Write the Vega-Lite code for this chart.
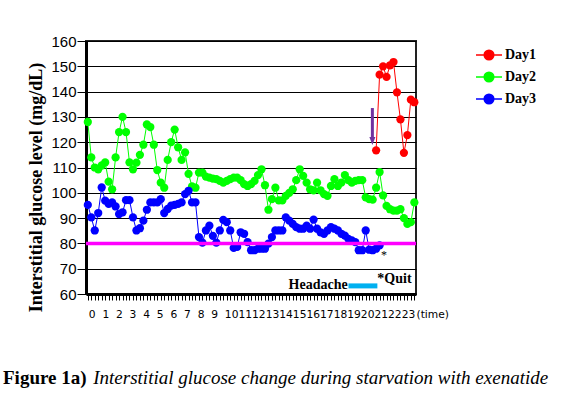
{
  "$schema": "https://vega.github.io/schema/vega-lite/v6.json",
  "width": 330,
  "height": 253,
  "autosize": {"type": "none"},
  "padding": {"left": 86, "top": 41, "right": 151, "bottom": 121},
  "background": "white",
  "config": {"view": {"stroke": "#222222", "strokeWidth": 2, "fill": "white"}},
  "title": {
    "text": "Figure 1a)",
    "subtitle": "\u200b\u00a0\u00a0\u00a0\u00a0\u00a0\u00a0\u00a0\u00a0\u00a0\u00a0\u00a0\u00a0\u00a0\u00a0\u00a0\u00a0\u00a0\u00a0\u00a0Interstitial glucose change during starvation with exenatide",
    "orient": "bottom",
    "anchor": "start",
    "frame": "group",
    "dx": -83,
    "offset": 50,
    "font": "Liberation Serif",
    "fontSize": 19,
    "fontWeight": "bold",
    "color": "black",
    "subtitleFont": "Liberation Serif",
    "subtitleFontSize": 19,
    "subtitleFontStyle": "italic",
    "subtitleFontWeight": "normal",
    "subtitleColor": "black",
    "subtitlePadding": -19
  },
  "resolve": {"axis": {"x": "independent", "y": "independent"}},
  "datasets": {
    "glucose": [
      {"day":"Day2","h":0,"g":128},{"day":"Day2","h":0.25,"g":114},{"day":"Day2","h":0.5,"g":110},{"day":"Day2","h":0.75,"g":109.3},
      {"day":"Day2","h":1,"g":110.8},{"day":"Day2","h":1.25,"g":112},{"day":"Day2","h":1.5,"g":104.4},{"day":"Day2","h":1.75,"g":101.4},
      {"day":"Day2","h":2,"g":114},{"day":"Day2","h":2.25,"g":124},{"day":"Day2","h":2.5,"g":130},{"day":"Day2","h":2.75,"g":124},
      {"day":"Day2","h":3,"g":112},{"day":"Day2","h":3.25,"g":109.3},{"day":"Day2","h":3.5,"g":111.9},{"day":"Day2","h":3.75,"g":115},
      {"day":"Day2","h":4,"g":119},{"day":"Day2","h":4.25,"g":127},{"day":"Day2","h":4.5,"g":126},{"day":"Day2","h":4.75,"g":119},
      {"day":"Day2","h":5,"g":109},{"day":"Day2","h":5.25,"g":104},{"day":"Day2","h":5.5,"g":102},{"day":"Day2","h":5.75,"g":113},
      {"day":"Day2","h":6,"g":120},{"day":"Day2","h":6.25,"g":125},{"day":"Day2","h":6.5,"g":118},{"day":"Day2","h":6.75,"g":113},
      {"day":"Day2","h":7,"g":116},{"day":"Day2","h":7.25,"g":107.5},{"day":"Day2","h":7.5,"g":102.5},{"day":"Day2","h":7.75,"g":102},
      {"day":"Day2","h":8,"g":108},{"day":"Day2","h":8.25,"g":108},{"day":"Day2","h":8.5,"g":106.4},{"day":"Day2","h":8.75,"g":106},
      {"day":"Day2","h":9,"g":105.6},{"day":"Day2","h":9.25,"g":105.4},{"day":"Day2","h":9.5,"g":104.7},{"day":"Day2","h":9.75,"g":104},
      {"day":"Day2","h":10,"g":104.7},{"day":"Day2","h":10.25,"g":105.4},{"day":"Day2","h":10.5,"g":106},{"day":"Day2","h":10.75,"g":106},
      {"day":"Day2","h":11,"g":105},{"day":"Day2","h":11.25,"g":103.4},{"day":"Day2","h":11.5,"g":102.7},{"day":"Day2","h":11.75,"g":103.4},
      {"day":"Day2","h":12,"g":104.7},{"day":"Day2","h":12.25,"g":107},{"day":"Day2","h":12.5,"g":109.3},{"day":"Day2","h":12.75,"g":103},
      {"day":"Day2","h":13,"g":93.3},{"day":"Day2","h":13.25,"g":97.5},{"day":"Day2","h":13.5,"g":102},{"day":"Day2","h":13.75,"g":97},
      {"day":"Day2","h":14,"g":97},{"day":"Day2","h":14.25,"g":98.8},{"day":"Day2","h":14.5,"g":100},{"day":"Day2","h":14.75,"g":101.4},
      {"day":"Day2","h":15,"g":105},{"day":"Day2","h":15.25,"g":109.3},{"day":"Day2","h":15.5,"g":106.7},{"day":"Day2","h":15.75,"g":104},
      {"day":"Day2","h":16,"g":101.4},{"day":"Day2","h":16.25,"g":101},{"day":"Day2","h":16.5,"g":104},{"day":"Day2","h":16.75,"g":101},
      {"day":"Day2","h":17,"g":99.5},{"day":"Day2","h":17.25,"g":98.8},{"day":"Day2","h":17.5,"g":102.7},{"day":"Day2","h":17.75,"g":105.4},
      {"day":"Day2","h":18,"g":102.7},{"day":"Day2","h":18.25,"g":104},{"day":"Day2","h":18.5,"g":107},{"day":"Day2","h":18.75,"g":105},
      {"day":"Day2","h":19,"g":104},{"day":"Day2","h":19.25,"g":104.7},{"day":"Day2","h":19.5,"g":105},{"day":"Day2","h":19.75,"g":105},
      {"day":"Day2","h":20,"g":98.2},{"day":"Day2","h":20.25,"g":97.5},{"day":"Day2","h":20.5,"g":97.3},{"day":"Day2","h":20.75,"g":102},
      {"day":"Day2","h":21,"g":108.2},{"day":"Day2","h":21.25,"g":99},{"day":"Day2","h":21.5,"g":94.8},{"day":"Day2","h":21.75,"g":93.5},
      {"day":"Day2","h":22,"g":93},{"day":"Day2","h":22.25,"g":93},{"day":"Day2","h":22.5,"g":93.5},{"day":"Day2","h":22.75,"g":90},
      {"day":"Day2","h":23,"g":87.7},{"day":"Day2","h":23.25,"g":88.4},{"day":"Day2","h":23.5,"g":96.2},

      {"day":"Day3","h":0,"g":95.2},{"day":"Day3","h":0.25,"g":90.3},{"day":"Day3","h":0.5,"g":85.1},{"day":"Day3","h":0.75,"g":92},
      {"day":"Day3","h":1,"g":102.1},{"day":"Day3","h":1.25,"g":96.9},{"day":"Day3","h":1.5,"g":95.6},{"day":"Day3","h":1.75,"g":96.2},
      {"day":"Day3","h":2,"g":94.6},{"day":"Day3","h":2.25,"g":91.6},{"day":"Day3","h":2.5,"g":92.3},{"day":"Day3","h":2.75,"g":97.1},
      {"day":"Day3","h":3,"g":97.1},{"day":"Day3","h":3.25,"g":90.3},{"day":"Day3","h":3.5,"g":85.1},{"day":"Day3","h":3.75,"g":86},
      {"day":"Day3","h":4,"g":89},{"day":"Day3","h":4.25,"g":93.3},{"day":"Day3","h":4.5,"g":96.2},{"day":"Day3","h":4.75,"g":96.2},
      {"day":"Day3","h":5,"g":96.2},{"day":"Day3","h":5.25,"g":97.5},{"day":"Day3","h":5.5,"g":92},{"day":"Day3","h":5.75,"g":93.6},
      {"day":"Day3","h":6,"g":94.9},{"day":"Day3","h":6.25,"g":95.2},{"day":"Day3","h":6.5,"g":95.6},{"day":"Day3","h":6.75,"g":96.2},
      {"day":"Day3","h":7,"g":99.5},{"day":"Day3","h":7.25,"g":100.8},{"day":"Day3","h":7.5,"g":96.2},{"day":"Day3","h":7.75,"g":96.2},
      {"day":"Day3","h":8,"g":82.5},{"day":"Day3","h":8.25,"g":80.3},{"day":"Day3","h":8.5,"g":85.1},{"day":"Day3","h":8.75,"g":87},
      {"day":"Day3","h":9,"g":83},{"day":"Day3","h":9.25,"g":80.3},{"day":"Day3","h":9.5,"g":85.1},{"day":"Day3","h":9.75,"g":89.3},
      {"day":"Day3","h":10,"g":88.4},{"day":"Day3","h":10.25,"g":85.1},{"day":"Day3","h":10.5,"g":78.2},{"day":"Day3","h":10.75,"g":78.6},
      {"day":"Day3","h":11,"g":84.4},{"day":"Day3","h":11.25,"g":83.8},{"day":"Day3","h":11.5,"g":80.5},{"day":"Day3","h":11.75,"g":77.3},
      {"day":"Day3","h":12,"g":77.3},{"day":"Day3","h":12.25,"g":77.9},{"day":"Day3","h":12.5,"g":77.9},{"day":"Day3","h":12.75,"g":77.9},
      {"day":"Day3","h":13,"g":79.9},{"day":"Day3","h":13.25,"g":82.5},{"day":"Day3","h":13.5,"g":85.1},{"day":"Day3","h":13.75,"g":85.1},
      {"day":"Day3","h":14,"g":85.1},{"day":"Day3","h":14.25,"g":90.3},{"day":"Day3","h":14.5,"g":89},{"day":"Day3","h":14.75,"g":87.7},
      {"day":"Day3","h":15,"g":86.4},{"day":"Day3","h":15.25,"g":85.8},{"day":"Day3","h":15.5,"g":85.8},{"day":"Day3","h":15.75,"g":87},
      {"day":"Day3","h":16,"g":85.8},{"day":"Day3","h":16.25,"g":89.4},{"day":"Day3","h":16.5,"g":85.8},{"day":"Day3","h":16.75,"g":84.4},
      {"day":"Day3","h":17,"g":83.8},{"day":"Day3","h":17.25,"g":85.1},{"day":"Day3","h":17.5,"g":86.4},{"day":"Day3","h":17.75,"g":85.8},
      {"day":"Day3","h":18,"g":85.1},{"day":"Day3","h":18.25,"g":83.8},{"day":"Day3","h":18.5,"g":83.1},{"day":"Day3","h":18.75,"g":81.8},
      {"day":"Day3","h":19,"g":81.2},{"day":"Day3","h":19.25,"g":80.5},{"day":"Day3","h":19.5,"g":77.3},{"day":"Day3","h":19.75,"g":77.3},
      {"day":"Day3","h":20,"g":85.1},{"day":"Day3","h":20.25,"g":77.5},{"day":"Day3","h":20.5,"g":77.3},{"day":"Day3","h":20.75,"g":77.9},
      {"day":"Day3","h":21,"g":79.2},

      {"day":"Day1","h":20.75,"g":116.8},{"day":"Day1","h":21,"g":146.7},{"day":"Day1","h":21.25,"g":150},{"day":"Day1","h":21.5,"g":145.8},
      {"day":"Day1","h":21.75,"g":150.4},{"day":"Day1","h":22,"g":151.7},{"day":"Day1","h":22.25,"g":139.7},{"day":"Day1","h":22.5,"g":129},
      {"day":"Day1","h":22.75,"g":115.8},{"day":"Day1","h":23,"g":122.8},{"day":"Day1","h":23.25,"g":136.8},{"day":"Day1","h":23.5,"g":135.8}
    ],
    "threshold": [{"g": 80}],
    "arrow": [{"h": 20.48, "from": 133.5, "to": 121.3, "head": 120.5}],
    "headache": [{"start": 18.76, "end": 20.84, "g": 63.2}],
    "notes": [
      {"text": "Headache", "h": 18.7, "g": 62.0},
      {"text": "*Quit", "h": 20.84, "g": 64.4},
      {"text": "*", "h": 21.1, "g": 74.0}
    ]
  },
  "layer": [
    {
      "data": {"name": "glucose"},
      "mark": {"type": "line", "strokeWidth": 1},
      "encoding": {
        "x": {
          "field": "h", "type": "quantitative",
          "scale": {"domain": [-0.13, 23.62], "nice": false, "zero": false},
          "axis": {
            "values": [0,0.25,0.5,0.75,1,1.25,1.5,1.75,2,2.25,2.5,2.75,3,3.25,3.5,3.75,4,4.25,4.5,4.75,5,5.25,5.5,5.75,6,6.25,6.5,6.75,7,7.25,7.5,7.75,8,8.25,8.5,8.75,9,9.25,9.5,9.75,10,10.25,10.5,10.75,11,11.25,11.5,11.75,12,12.25,12.5,12.75,13,13.25,13.5,13.75,14,14.25,14.5,14.75,15,15.25,15.5,15.75,16,16.25,16.5,16.75,17,17.25,17.5,17.75,18,18.25,18.5,18.75,19,19.25,19.5,19.75,20,20.25,20.5,20.75,21,21.25,21.5,21.75,22,22.25,22.5,22.75,23,23.25,23.5,
              0.036,1.015,1.994,2.973,3.952,4.931,5.91,6.889,7.868,8.847,9.826,10.805,11.784,12.763,13.742,14.721,15.7,16.679,17.658,18.637,19.616,20.595,21.574,22.553],
            "labelExpr": "datum.value * 4 === round(datum.value * 4) ? '' : '' + round((datum.value - 0.036) / 0.979)",
            "tickOpacity": {"condition": {"test": "datum.value * 4 !== round(datum.value * 4)", "value": 0}, "value": 1},
            "labelOverlap": false, "labelFlush": false, "labelBound": false,
            "labelAlign": "left", "labelBaseline": "alphabetic",
            "labelFont": "DejaVu Sans", "labelFontSize": 10.7, "labelColor": "black",
            "labelPadding": 17.5, "tickSize": 6, "tickColor": "black", "tickWidth": 1,
            "domainColor": "black", "domainWidth": 3, "grid": false,
            "title": "(time)", "titleX": 330, "titleY": 23.5, "titleAlign": "left", "titleBaseline": "alphabetic",
            "titleFont": "DejaVu Sans", "titleFontSize": 10.7, "titleFontWeight": "normal", "titleColor": "black"
          }
        },
        "y": {
          "field": "g", "type": "quantitative",
          "scale": {"domain": [60, 160], "nice": false, "zero": false},
          "axis": {
            "values": [60,70,80,90,100,110,120,130,140,150,160],
            "labelOverlap": false,
            "grid": true, "gridColor": "black", "gridWidth": 1, "gridOpacity": 1,
            "tickColor": "black", "tickSize": 9, "tickWidth": 1,
            "labelFont": "Liberation Sans", "labelFontSize": 15, "labelColor": "black", "labelPadding": 1,
            "labelFlush": false, "labelBaseline": "middle",
            "domainColor": "black", "domainWidth": 3,
            "title": "Interstitial glucose level (mg/dL)",
            "titleFont": "Liberation Serif", "titleFontSize": 18, "titleFontWeight": "bold", "titleColor": "black",
            "titleAngle": 270, "titleX": -50, "titleY": 146, "titleAlign": "center", "titleBaseline": "middle"
          }
        },
        "color": {
          "field": "day", "type": "nominal",
          "scale": {"domain": ["Day1", "Day2", "Day3"], "range": ["#ff0000", "#00ff00", "#0000ff"]},
          "legend": {
            "title": null, "orient": "none", "legendX": 389, "legendY": 0, "padding": 0,
            "symbolType": "M-1,0L1,0M0.37,0A0.37,0.37,0,1,1,-0.37,0A0.37,0.37,0,1,1,0.37,0Z",
            "symbolSize": 676, "symbolStrokeWidth": 1.5,
            "labelFont": "Liberation Serif", "labelFontSize": 14, "labelFontWeight": "bold", "labelColor": "black",
            "labelOffset": 2, "rowPadding": 0,
            "encode": {"symbols": {"update": {
              "fill": {"scale": "color", "field": "value"},
              "stroke": {"scale": "color", "field": "value"},
              "strokeWidth": {"value": 1.5},
              "opacity": {"value": 1},
              "fillOpacity": {"value": 1}
            }}}
          }
        }
      }
    },
    {
      "data": {"name": "glucose"},
      "mark": {"type": "point", "filled": true, "size": 68, "opacity": 1},
      "encoding": {
        "x": {"field": "h", "type": "quantitative", "axis": null},
        "y": {"field": "g", "type": "quantitative", "axis": null},
        "color": {"field": "day", "type": "nominal"}
      }
    },
    {
      "data": {"name": "threshold"},
      "mark": {"type": "rule", "color": "#ff00ff", "strokeWidth": 3.5},
      "encoding": {"y": {"field": "g", "type": "quantitative", "axis": null}}
    },
    {
      "data": {"name": "arrow"},
      "mark": {"type": "rule", "color": "#7030a0", "strokeWidth": 3},
      "encoding": {
        "x": {"field": "h", "type": "quantitative", "axis": null},
        "y": {"field": "from", "type": "quantitative", "axis": null},
        "y2": {"field": "to"}
      }
    },
    {
      "data": {"name": "arrow"},
      "mark": {"type": "point", "shape": "M-0.75,-1L0.75,-1L0,1Z", "filled": true, "size": 64, "color": "#7030a0", "opacity": 1},
      "encoding": {
        "x": {"field": "h", "type": "quantitative", "axis": null},
        "y": {"field": "head", "type": "quantitative", "axis": null}
      }
    },
    {
      "data": {"name": "headache"},
      "mark": {"type": "rule", "color": "#00b0f0", "strokeWidth": 5},
      "encoding": {
        "x": {"field": "start", "type": "quantitative", "axis": null},
        "x2": {"field": "end"},
        "y": {"field": "g", "type": "quantitative", "axis": null}
      }
    },
    {
      "data": {"name": "notes"},
      "transform": [{"filter": "datum.text === 'Headache'"}],
      "mark": {"type": "text", "align": "right", "baseline": "alphabetic", "font": "Liberation Serif", "fontSize": 14, "fontWeight": "bold", "color": "black"},
      "encoding": {
        "x": {"field": "h", "type": "quantitative", "axis": null},
        "y": {"field": "g", "type": "quantitative", "axis": null},
        "text": {"field": "text"}
      }
    },
    {
      "data": {"name": "notes"},
      "transform": [{"filter": "datum.text === '*Quit'"}],
      "mark": {"type": "text", "align": "left", "baseline": "alphabetic", "font": "Liberation Serif", "fontSize": 14, "fontWeight": "bold", "color": "black"},
      "encoding": {
        "x": {"field": "h", "type": "quantitative", "axis": null},
        "y": {"field": "g", "type": "quantitative", "axis": null},
        "text": {"field": "text"}
      }
    },
    {
      "data": {"name": "notes"},
      "transform": [{"filter": "datum.text === '*'"}],
      "mark": {"type": "text", "align": "left", "baseline": "alphabetic", "font": "Liberation Serif", "fontSize": 12, "color": "black"},
      "encoding": {
        "x": {"field": "h", "type": "quantitative", "axis": null},
        "y": {"field": "g", "type": "quantitative", "axis": null},
        "text": {"field": "text"}
      }
    }
  ]
}
